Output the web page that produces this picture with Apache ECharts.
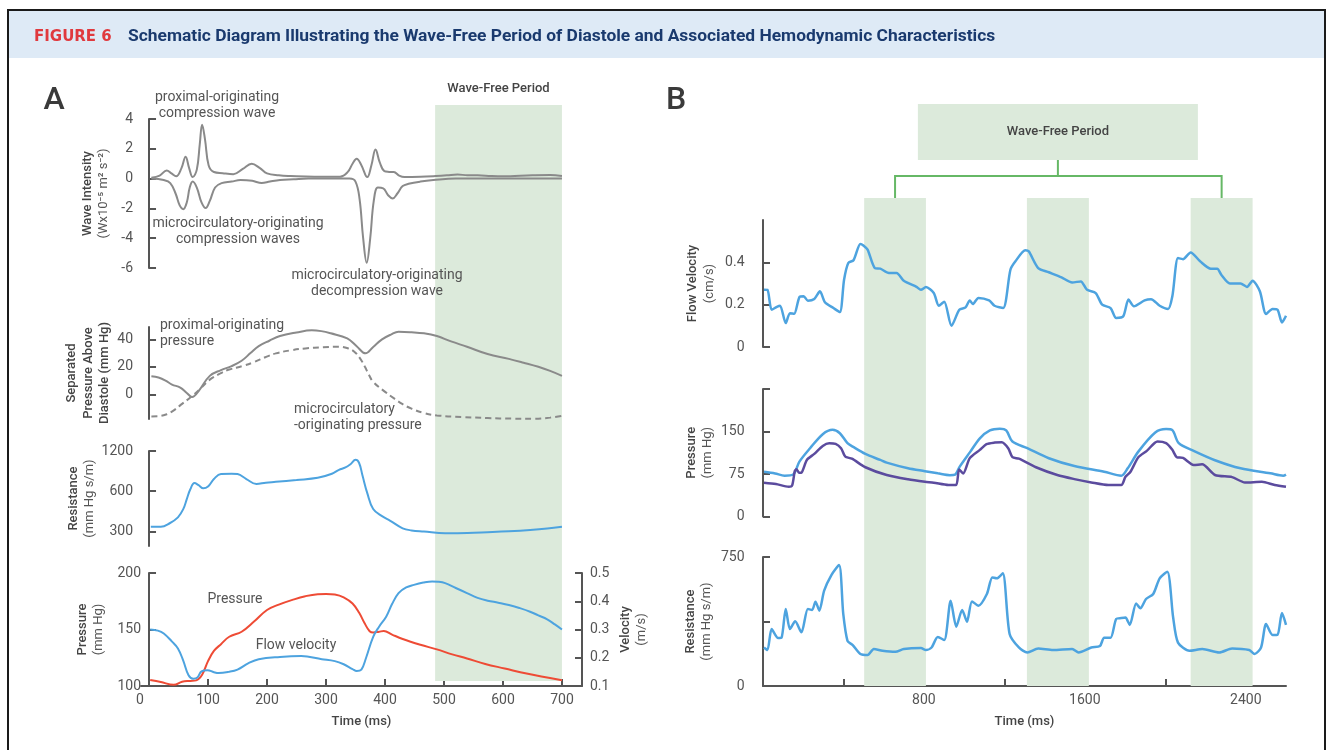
<!DOCTYPE html>
<html><head><meta charset="utf-8">
<script src="https://cdn.jsdelivr.net/npm/echarts@6/dist/echarts.min.js"></script>
<style>html,body{margin:0;padding:0;background:#fff}#c{width:1330px;height:750px}</style>
</head><body><div id="c"></div>
<script>
// ---------------- DATA (panel A, time in ms) ----------------
const waveUp = [[4,0.05],[18,0.2],[30,0.55],[38,0.35],[46,0.15],[55,0.7],[62,1.47],[68,0.7],[74,0.1],[81,0.6],[86,2.3],[90,3.62],[95,2.6],[101,0.9],[110,0.44],[125,0.36],[143,0.3],[159,0.65],[174,1.0],[188,0.7],[200,0.35],[220,0.22],[240,0.17],[280,0.12],[324,0.13],[337,0.45],[345,1.0],[352,1.33],[360,0.9],[370,0.1],[377,0.9],[384,1.95],[391,1.1],[399,0.5],[407,0.45],[415,0.44],[424,0.2],[433,0.1],[460,0.12],[486,0.17],[505,0.22],[523,0.28],[540,0.22],[557,0.22],[580,0.17],[600,0.15],[620,0.18],[650,0.22],[680,0.24],[700,0.18]];
const waveDown = [[4,0],[25,-0.1],[36,-0.3],[45,-1.0],[52,-1.8],[58,-2.05],[64,-1.6],[69,-0.6],[74,-0.2],[81,-0.6],[89,-1.6],[96,-1.98],[103,-1.5],[112,-0.6],[123,-0.3],[140,-0.2],[155,-0.1],[175,-0.15],[191,-0.3],[205,-0.2],[222,-0.1],[245,-0.05],[270,0],[340,0],[350,-0.2],[357,-1.4],[363,-4.0],[369,-5.65],[375,-4.0],[381,-1.5],[388,-0.6],[397,-0.65],[405,-1.1],[413,-1.33],[421,-1.0],[430,-0.5],[440,-0.35],[460,-0.2],[482,-0.1],[520,0],[700,0]];
const sepProximal = [[4,13.2],[16,12.2],[28,10],[39,7.1],[53,4.9],[64,1],[73,-2],[85,2.9],[103,13.4],[122,17.6],[140,20.5],[157,24.4],[172,30],[186,35.1],[204,39],[222,42.4],[250,45],[276,46.6],[292,46],[308,44.4],[336,40.7],[352,35],[367,29.8],[380,34.5],[395,40],[410,43.5],[423,45.6],[445,45.2],[466,44.4],[488,42.4],[512,38.5],[539,34.6],[574,29.3],[610,25.8],[635,23],[660,20],[680,17],[700,13.4]];
const sepMicro = [[4,-16.1],[15,-16],[30,-14.5],[42,-11.7],[56,-7],[71,-2],[87,4],[103,10.7],[120,15],[136,18],[158,20.5],[179,23.6],[197,27],[215,29.8],[240,32],[265,33.4],[295,34.2],[322,34.6],[337,33.5],[348,31],[358,26],[366,20],[373,14],[380,9],[398,2.5],[416,-3.2],[430,-7.2],[445,-10.5],[465,-13.5],[488,-15.4],[530,-16.5],[574,-17.3],[615,-17.7],[653,-17.8],[680,-17],[700,-15.8]];
const resistanceA = [[3,325],[20,325],[35,345],[49,382],[58,440],[64,523],[70,620],[77,690],[84,665],[92,630],[100,650],[110,740],[122,808],[140,812],[150,806],[165,740],[182,680],[198,695],[215,705],[250,728],[286,755],[310,810],[322,866],[333,903],[342,960],[350,1030],[356,980],[362,782],[370,580],[380,441],[395,390],[409,360],[430,316],[445,305],[466,299],[502,290],[540,291],[574,295],[610,300],[646,307],[675,315],[700,325]];
const pressureA = [[2,105.3],[20,103.5],[42,101],[56,103.8],[70,104.5],[80,105],[90,110],[100,122],[110,131],[122,137],[136,143.6],[157,148],[178,157],[200,167.3],[220,172],[243,176.2],[265,179.5],[286,181.3],[300,181.5],[315,181],[330,178.5],[345,173],[356,165],[366,155],[374,148.5],[380,147.3],[390,148],[398,148.7],[412,145.5],[430,141.6],[460,136.5],[488,132.4],[514,128],[539,124.4],[570,119.5],[603,115.5],[640,111],[670,108],[700,105]];
const flowA = [[2,0.30],[15,0.296],[25,0.286],[39,0.257],[49,0.233],[58,0.19],[67,0.138],[75,0.126],[82,0.13],[89,0.152],[99,0.156],[110,0.149],[118,0.146],[135,0.15],[150,0.158],[168,0.18],[186,0.195],[222,0.203],[258,0.206],[293,0.195],[315,0.188],[330,0.177],[345,0.16],[352,0.153],[360,0.158],[368,0.2],[380,0.274],[390,0.31],[402,0.345],[412,0.39],[423,0.429],[436,0.449],[449,0.458],[465,0.466],[480,0.47],[490,0.469],[502,0.464],[520,0.447],[539,0.429],[557,0.412],[574,0.402],[592,0.395],[610,0.387],[628,0.376],[646,0.363],[660,0.35],[675,0.336],[688,0.318],[700,0.30]];
const wavefreeA = [[485, 700]];

// ---------------- DATA (panel B, time in ms) ----------------
const flowB = [[5,0.271],[22,0.27],[43,0.176],[69,0.19],[85,0.195],[113,0.113],[134,0.16],[155,0.157],[181,0.236],[202,0.24],[223,0.219],[255,0.227],[283,0.263],[308,0.211],[350,0.184],[382,0.165],[403,0.318],[424,0.397],[450,0.41],[484,0.487],[499,0.48],[520,0.46],[556,0.373],[583,0.37],[626,0.35],[664,0.35],[700,0.313],[763,0.284],[785,0.27],[810,0.283],[849,0.255],[874,0.195],[901,0.214],[937,0.1],[976,0.176],[1007,0.187],[1028,0.22],[1043,0.203],[1071,0.232],[1124,0.22],[1151,0.195],[1194,0.184],[1230,0.365],[1255,0.405],[1304,0.457],[1321,0.452],[1368,0.373],[1421,0.353],[1484,0.329],[1537,0.305],[1580,0.31],[1611,0.27],[1654,0.255],[1686,0.2],[1728,0.184],[1756,0.137],[1791,0.145],[1817,0.224],[1844,0.192],[1897,0.22],[1929,0.226],[1972,0.195],[2014,0.18],[2035,0.24],[2063,0.42],[2088,0.415],[2126,0.447],[2173,0.405],[2226,0.37],[2258,0.37],[2279,0.34],[2321,0.3],[2374,0.3],[2406,0.284],[2434,0.313],[2470,0.263],[2501,0.156],[2533,0.18],[2558,0.176],[2580,0.116],[2600,0.148]];
const aorticPressureB = [[5,79],[60,76],[107,72],[150,74],[181,96.8],[234,120.5],[297,145.3],[346,153],[382,147],[420,129.4],[446,123.4],[509,110.5],[583,99.8],[615,95],[721,85],[805,80],[869,76.2],[929,73],[955,74],[978,88],[1030,114],[1078,138],[1128,152],[1177,155],[1209,152],[1240,132.3],[1314,120.5],[1421,102.8],[1548,89],[1696,79],[1781,72],[1813,85],[1866,114.5],[1950,148.2],[2004,154.2],[2035,152.4],[2067,129.4],[2141,115.8],[2247,99.3],[2374,85],[2522,76.2],[2586,72],[2600,74]];
const distalPressureB = [[5,59.6],[64,57.3],[128,52.5],[145,55],[158,80],[166,83.3],[180,77],[191,77.3],[218,99.8],[255,110.5],[297,124.6],[329,129.4],[361,128.2],[388,120.5],[405,108],[414,104.6],[442,102],[509,86.9],[615,73.2],[721,65.6],[805,61.3],[849,59.6],[922,55.5],[960,55.5],[975,83],[995,76],[1028,103],[1078,117.6],[1111,127.6],[1152,130.5],[1187,131.2],[1219,120.5],[1240,104.6],[1272,102],[1357,86.9],[1463,73.2],[1548,66],[1632,60.1],[1717,55.5],[1781,55.5],[1802,70],[1827,79],[1866,104.6],[1908,115.8],[1961,132.3],[2004,129.4],[2035,117.6],[2057,104.6],[2088,103.4],[2141,91],[2183,92],[2247,73.2],[2332,69.5],[2396,60.1],[2480,61.2],[2544,55.5],[2600,52.5]];
const resistanceB = [[5,224],[22,209],[43,331],[75,279],[92,281],[113,448],[134,331],[160,376],[191,312],[223,448],[244,442],[261,490],[280,438],[304,554],[340,645],[378,703],[399,419],[420,263],[446,238],[484,186],[520,180],[551,215],[594,205],[658,199],[700,215],[785,221],[810,209],[838,224],[869,285],[901,267],[933,496],[961,345],[990,442],[1014,374],[1039,492],[1071,467],[1113,535],[1140,631],[1162,626],[1192,655],[1226,302],[1272,224],[1314,195],[1368,218],[1442,209],[1537,215],[1569,195],[1632,224],[1675,232],[1696,281],[1728,281],[1756,390],[1781,395],[1802,398],[1823,355],[1855,480],[1876,452],[1904,506],[1940,535],[1972,626],[2010,664],[2039,398],[2063,252],[2120,205],[2184,215],[2268,195],[2332,218],[2417,209],[2444,186],[2476,224],[2501,360],[2533,296],[2558,298],[2580,424],[2600,355]];
const wavefreeB = [[503,810],[1312,1620],[2126,2434]];

// ---------------- TICKS ----------------
const ticksA_time = [100,200,300,400,500,600,700];
const labelsA_time = [0,100,200,300,400,500,600,700];
const ticksA_wave = [-6,-4,-2,0,2,4];
const ticksA_sep = [0,20,40];
const ticksA_res = [300,600,1200];
const ticksA_press = [100,150,200];
const ticksA_vel = [0.1,0.2,0.3,0.4,0.5];
const ticksB_time = [400,800,1200,1600,2000,2400];
const labelsB_time = [800,1600,2400];
const ticksB_flow = [0,0.2,0.4];
const ticksB_press = [0,75,150,225];
const labelsB_press = [0,75,150];
const ticksB_res = [0,375,750];
const labelsB_res = [0,750];

// ---------------- STYLE ----------------
const F = 'Roboto, "Noto Sans", sans-serif';
const AX = '#555555', LAB = '#555555';
const GRAY = '#8a8a8a', BLUE = '#4da3df', RED = '#ee4b35', PURPLE = '#5b4b9e';
const GFILL = '#dceadb', GLINE = '#66b866';
const TICK_FS = 14;

const chart = echarts.init(document.getElementById('c'), null, {renderer: 'canvas'});

function nameRich() {
  return {
    fontFamily: F, fontSize: 13, lineHeight: 16.5,
    rich: {
      a: {fontFamily: F, fontSize: 13, fontWeight: 500, color: '#444', lineHeight: 16.5},
      b: {fontFamily: F, fontSize: 13, color: '#555', lineHeight: 16.5}
    }
  };
}
const plain = v => String(v);
function yAx(o) {
  return Object.assign({
    type: 'value', position: 'left', nameLocation: 'middle', nameRotate: 90,
    nameMoveOverlap: false,
    nameTextStyle: nameRich(),
    axisLine: {show: true, lineStyle: {color: AX, width: 2}},
    axisTick: {show: true, inside: true, length: 7, lineStyle: {color: AX, width: 2}, customValues: o.ticks},
    axisLabel: {show: true, color: LAB, fontFamily: F, fontSize: TICK_FS, margin: 8, customValues: o.labels || o.ticks, formatter: plain},
    splitLine: {show: false}
  }, o.extra);
}
function hiddenX(gridIndex, min, max) {
  return {type: 'value', gridIndex, min, max, show: false, splitLine: {show: false}};
}
function line(xi, yi, data, color, width, extra) {
  return Object.assign({
    type: 'line', xAxisIndex: xi, yAxisIndex: yi, data, showSymbol: false, symbol: 'none',
    smooth: 0.4, lineStyle: {color, width}, z: 3, silent: true, animation: false
  }, extra || {});
}

// x extents for panel A (axis lines begin 8px left of t=0)
const AX_MIN = -13.6, AX_MAX = 734;
const BX_MIN = 0, BX_MAX = 2600;

const grids = [
  {left: 141, top: 119, width: 441, height: 149},   // 0 A wave intensity
  {left: 141, top: 327, width: 441, height: 92},    // 1 A separated pressure
  {left: 141, top: 451, width: 441, height: 95},    // 2 A resistance
  {left: 141, top: 573, width: 441, height: 113},   // 3 A pressure/velocity
  {left: 141, top: 105, width: 441, height: 576},   // 4 A wave-free band
  {left: 763, top: 220, width: 523, height: 127},   // 5 B flow
  {left: 763, top: 389, width: 523, height: 127.5}, // 6 B pressure
  {left: 763, top: 557, width: 523, height: 129},   // 7 B resistance
  {left: 763, top: 198, width: 523, height: 488}    // 8 B bands
].map(g => Object.assign({containLabel: false, outerBoundsMode: 'none'}, g));

const timeName = {fontFamily: F, fontSize: 13, fontWeight: 500, color: '#444'};
const xAxes = [
  hiddenX(0, AX_MIN, AX_MAX), hiddenX(1, AX_MIN, AX_MAX), hiddenX(2, AX_MIN, AX_MAX),
  {
    type: 'value', gridIndex: 3, min: AX_MIN, max: AX_MAX,
    axisLine: {show: true, onZero: false, lineStyle: {color: AX, width: 2}},
    axisTick: {show: true, inside: true, length: 7, lineStyle: {color: AX, width: 2}, customValues: ticksA_time},
    axisLabel: {show: true, color: LAB, fontFamily: F, fontSize: TICK_FS, margin: 7, customValues: labelsA_time,
      formatter: v => v === 0 ? '{z|0}' : String(v),
      rich: {z: {color: LAB, fontFamily: F, fontSize: TICK_FS, padding: [0, 18, 0, 0]}}},
    splitLine: {show: false},
    name: 'Time (ms)', nameLocation: 'middle', nameGap: 29, nameTextStyle: timeName
  },
  hiddenX(4, AX_MIN, AX_MAX),
  hiddenX(5, BX_MIN, BX_MAX), hiddenX(6, BX_MIN, BX_MAX),
  {
    type: 'value', gridIndex: 7, min: BX_MIN, max: BX_MAX,
    axisLine: {show: true, onZero: false, lineStyle: {color: AX, width: 2}},
    axisTick: {show: true, inside: true, length: 7, lineStyle: {color: AX, width: 2}, customValues: ticksB_time},
    axisLabel: {show: true, color: LAB, fontFamily: F, fontSize: TICK_FS, margin: 7, customValues: labelsB_time, formatter: plain},
    splitLine: {show: false},
    name: 'Time (ms)', nameLocation: 'middle', nameGap: 29, nameTextStyle: timeName
  },
  hiddenX(8, BX_MIN, BX_MAX)
];

const yAxes = [
  yAx({ticks: ticksA_wave, extra: {gridIndex: 0, min: -6, max: 4, nameGap: 29,
    name: '{a|Wave Intensity}\n{b|(Wx10⁻⁵ m² s⁻²)}'}}),
  yAx({ticks: ticksA_sep, extra: {gridIndex: 1, min: -18, max: 49, nameGap: 28,
    name: '{a|Separated}\n{a|Pressure Above}\n{a|Diastole (mm Hg)}'}}),
  yAx({ticks: ticksA_res, extra: {gridIndex: 2, type: 'log', logBase: 2, min: 233, max: 1200, nameGap: 43,
    name: '{a|Resistance}\n{b|(mm Hg s/m)}'}}),
  yAx({ticks: ticksA_press, extra: {gridIndex: 3, min: 100, max: 200, offset: -8, nameGap: 42,
    name: '{a|Pressure}\n{b|(mm Hg)}'}}),
  yAx({ticks: ticksA_vel, extra: {gridIndex: 3, min: 0.1, max: 0.5, position: 'right', offset: 0, nameGap: 35,
    name: '{a|Velocity}\n{b|(m/s)}'}}),
  {type: 'value', gridIndex: 4, min: 0, max: 1, show: false, splitLine: {show: false}},
  yAx({ticks: ticksB_flow, extra: {gridIndex: 5, min: 0, max: 0.6, offset: 10.5, nameGap: 35,
    name: '{a|Flow Velocity}\n{b|(cm/s)}'}}),
  yAx({ticks: ticksB_press, labels: labelsB_press, extra: {gridIndex: 6, min: 0, max: 225, offset: 10.5, nameGap: 36.5,
    name: '{a|Pressure}\n{b|(mm Hg)}'}}),
  yAx({ticks: ticksB_res, labels: labelsB_res, extra: {gridIndex: 7, min: 0, max: 750, offset: 10.5, nameGap: 37.5,
    name: '{a|Resistance}\n{b|(mm Hg s/m)}'}}),
  {type: 'value', gridIndex: 8, min: 0, max: 1, show: false, splitLine: {show: false}}
];

function bandSeries(xi, yi, bands) {
  return {
    type: 'line', xAxisIndex: xi, yAxisIndex: yi, data: [], z: 0, silent: true, animation: false,
    markArea: {silent: true, itemStyle: {color: GFILL}, data: bands.map(b => [{xAxis: b[0]}, {xAxis: b[1]}])}
  };
}

const series = [
  bandSeries(4, 5, wavefreeA),
  bandSeries(8, 9, wavefreeB),
  line(0, 0, waveUp, GRAY, 2),
  line(0, 0, waveDown, GRAY, 2),
  line(1, 1, sepProximal, GRAY, 2),
  line(1, 1, sepMicro, GRAY, 2, {lineStyle: {color: GRAY, width: 2, type: [6, 4]}}),
  line(2, 2, resistanceA, BLUE, 2),
  line(3, 3, pressureA, RED, 2),
  line(3, 4, flowA, BLUE, 2),
  line(5, 6, flowB, BLUE, 2.5, {smooth: 0.25}),
  line(6, 7, aorticPressureB, BLUE, 2.5, {smooth: 0.3}),
  line(6, 7, distalPressureB, PURPLE, 2.5, {smooth: 0.25}),
  line(7, 8, resistanceB, BLUE, 2.5, {smooth: 0.25})
];

chart.setOption({
  animation: false,
  backgroundColor: '#ffffff',
  grid: grids, xAxis: xAxes, yAxis: yAxes, series
});

// ---------------- DECORATION ----------------
function txt(text, x, y, o) {
  return {type: 'text', z: 20, silent: true, style: Object.assign({
    text, x, y, fill: '#555', fontFamily: F, fontSize: 14, align: 'center', verticalAlign: 'middle'
  }, o || {})};
}
const bx = v => chart.convertToPixel({xAxisIndex: 8}, v);
const bandTopB = 198;
const centers = wavefreeB.map(b => bx((b[0] + b[1]) / 2));
const boxW = 280, boxTop = 104, boxH = 56, joinY = 176;
const midC = centers[1];

const graphic = [
  {type: 'rect', z: 1, silent: true, shape: {x: 9, y: 11, width: 1315, height: 47}, style: {fill: '#deeaf6'}},
  {type: 'rect', z: 30, silent: true, shape: {x: 8, y: 10, width: 1317, height: 760}, style: {fill: null, stroke: '#1a1a1a', lineWidth: 2}},
  txt('FIGURE 6', 34, 37, {align: 'left', fill: '#e0393e', fontFamily: '"DejaVu Sans", sans-serif', fontWeight: 'bold', fontSize: 15}),
  txt('Schematic Diagram Illustrating the Wave-Free Period of Diastole and Associated Hemodynamic Characteristics', 128, 37,
      {align: 'left', fill: '#1a3a6e', fontWeight: 'bold', fontSize: 17.4}),
  txt('A', 54, 101, {fontSize: 32, fontWeight: 500, fill: '#3a3a3a'}),
  txt('B', 676, 101, {fontSize: 32, fontWeight: 500, fill: '#3a3a3a'}),
  txt('Wave-Free Period', 498.5, 89, {fontSize: 13, fontWeight: 500, fill: '#444'}),
  txt('proximal-originating', 217, 97),
  txt('compression wave', 217, 113),
  txt('microcirculatory-originating', 238, 223),
  txt('compression waves', 238, 239),
  txt('microcirculatory-originating', 377, 275),
  txt('decompression wave', 377, 291),
  txt('proximal-originating', 160, 325, {align: 'left'}),
  txt('pressure', 160, 341.5, {align: 'left'}),
  txt('microcirculatory', 294, 409, {align: 'left'}),
  txt('-originating pressure', 294, 425.5, {align: 'left'}),
  txt('Pressure', 235, 599),
  txt('Flow velocity', 296, 645),
  // panel B wave-free box and connectors
  {type: 'rect', z: 5, silent: true, shape: {x: midC - boxW / 2, y: boxTop, width: boxW, height: boxH}, style: {fill: GFILL}},
  txt('Wave-Free Period', midC, boxTop + boxH / 2, {fontSize: 13, fontWeight: 500, fill: '#444'}),
  {type: 'polyline', z: 5, silent: true, shape: {points: [[midC, boxTop + boxH], [midC, joinY]]}, style: {stroke: GLINE, lineWidth: 2, fill: null}},
  {type: 'polyline', z: 5, silent: true, shape: {points: [[centers[0], bandTopB], [centers[0], joinY], [centers[2], joinY], [centers[2], bandTopB]]}, style: {stroke: GLINE, lineWidth: 2, fill: null}}
];
chart.setOption({graphic});
</script>
</body></html>
